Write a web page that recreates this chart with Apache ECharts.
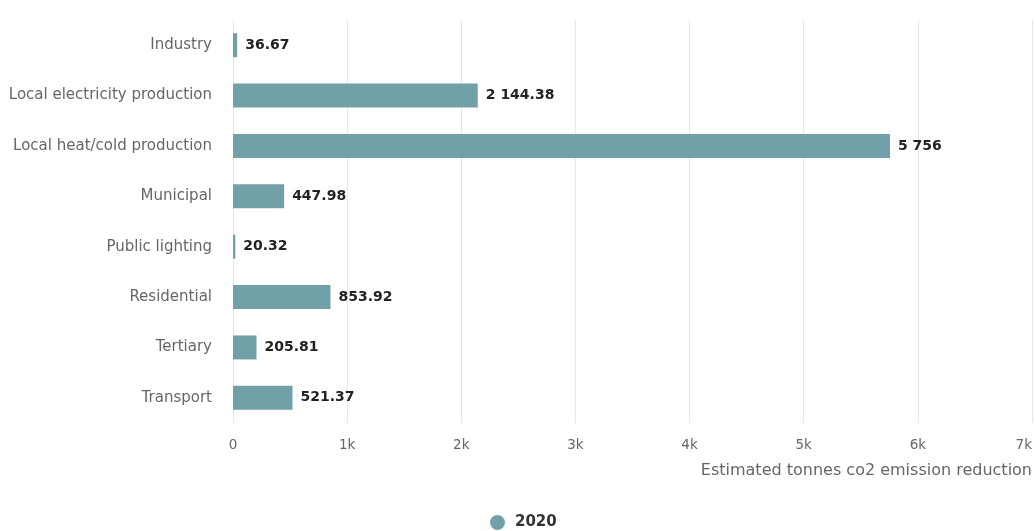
<!DOCTYPE html>
<html><head><meta charset="utf-8">
<script src="https://cdn.jsdelivr.net/npm/echarts@6/dist/echarts.min.js"></script>
<style>html,body{margin:0;padding:0;background:#fff}#c{width:1035px;height:531px}</style>
</head><body><div id="c"></div>
<script>
const categories = ["Industry","Local electricity production","Local heat/cold production","Municipal","Public lighting","Residential","Tertiary","Transport"];
const values2020 = [36.67, 2144.38, 5756, 447.98, 20.32, 853.92, 205.81, 521.37];
const seriesName = "2020";
const axisName = "Estimated tonnes co2 emission reduction";

function fmtNum(v){
  let s = String(v);
  let parts = s.split(".");
  parts[0] = parts[0].replace(/\B(?=(\d{3})+(?!\d))/g, " ");
  return parts.join(".");
}
const FONT = "DejaVu Sans";
const chart = echarts.init(document.getElementById('c'));
chart.setOption({
  animation:false,
  textStyle:{fontFamily:FONT},
  grid:{left:233,right:3,top:20,bottom:108,containLabel:false,outerBoundsMode:'none'},
  legend:{top:510,left:485,padding:5,icon:'circle',itemWidth:15,itemHeight:15,itemGap:8,
    textStyle:{fontFamily:FONT,fontSize:15,fontWeight:'bold',color:'#333',padding:[0,0,0,5]},data:[seriesName]},
  xAxis:{type:'value',min:0,max:7000,interval:1000,
    name:axisName,nameLocation:'end',nameGap:0,
    nameTextStyle:{fontFamily:FONT,fontSize:16,color:'#666',align:'right',verticalAlign:'top',padding:[40,0,0,0]},
    axisLine:{show:false},axisTick:{show:false},
    splitLine:{lineStyle:{color:'#e6e6e6'}},
    axisLabel:{fontFamily:FONT,fontSize:13.5,color:'#666',margin:15,alignMaxLabel:'right',
      formatter:function(v){return v===0?'0':(v/1000)+'k';}}},
  yAxis:{type:'category',data:categories,inverse:true,
    axisLine:{show:false},axisTick:{show:false},
    axisLabel:{fontFamily:FONT,fontSize:15,color:'#666',margin:21}},
  series:[{name:seriesName,type:'bar',data:values2020,barWidth:24,
    itemStyle:{color:'#72a0a8'},
    label:{show:true,position:'right',distance:8,fontFamily:FONT,fontSize:14,fontWeight:'bold',color:'#222',
      formatter:function(p){return fmtNum(p.value);}}}]
});
</script></body></html>
